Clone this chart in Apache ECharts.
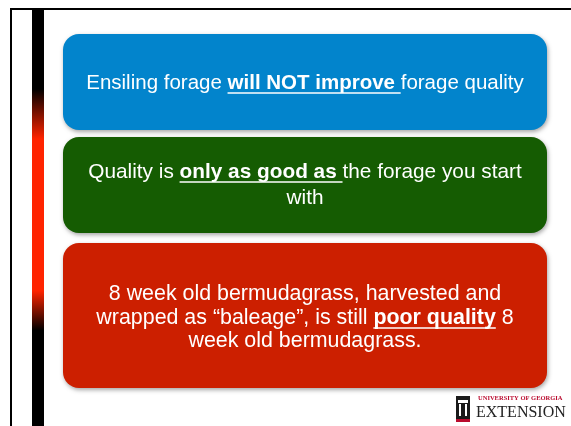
<!DOCTYPE html>
<html>
<head>
<meta charset="utf-8">
<script src="https://cdn.jsdelivr.net/npm/echarts@6/dist/echarts.min.js"></script>
<style>
  html, body { margin: 0; padding: 0; background: #fff; }
  #chart { width: 571px; height: 426px; }
</style>
</head>
<body>
<div id="chart"></div>
<script>
// slide text, each line is a list of [text, emphasised]
const blueLines = [
  [['Ensiling forage ', false], ['will NOT improve ', true], ['forage quality', false]]
]
const greenLines = [
  [['Quality is ', false], ['only as good as ', true], ['the forage you start', false]],
  [['with', false]]
]
const redLines = [
  [['8 week old bermudagrass, harvested and', false]],
  [['wrapped as \u201cbaleage\u201d, is still ', false], ['poor quality', true], [' 8', false]],
  [['week old bermudagrass.', false]]
]
const boxColors = ['#0284cc', '#155c02', '#cc1f00']
const logoSmall = 'UNIVERSITY OF GEORGIA'
const logoBig = 'EXTENSION'

const FONT_FAMILY = '"Liberation Sans", Arial, sans-serif'

const measureCtx = document.createElement('canvas').getContext('2d')
function fontOf(bold, size) {
  return (bold ? 'bold ' : 'normal ') + size + 'px ' + FONT_FAMILY
}
function widthOf(txt, bold, size) {
  measureCtx.font = fontOf(bold, size)
  return measureCtx.measureText(txt).width
}

// lay out centred lines of mixed text, underline the emphasised parts
function textBlock(lines, cx, cy, lineH, size) {
  const els = []
  const top = cy - (lines.length - 1) * lineH / 2
  lines.forEach(function (parts, i) {
    const y = top + i * lineH
    let total = 0
    parts.forEach(function (p) { total += widthOf(p[0], p[1], size) })
    let x = cx - total / 2
    parts.forEach(function (p) {
      const w = widthOf(p[0], p[1], size)
      els.push({
        type: 'text',
        x: x,
        y: y,
        style: {
          text: p[0],
          font: fontOf(p[1], size),
          fill: '#fff',
          textAlign: 'left',
          textVerticalAlign: 'middle'
        }
      })
      if (p[1]) {
        els.push({
          type: 'line',
          shape: { x1: x, y1: y + 10, x2: x + w, y2: y + 10 },
          style: { stroke: '#fff', lineWidth: 1.7 }
        })
      }
      x += w
    })
  })
  return els
}

function box(y, h, color) {
  return {
    type: 'rect',
    shape: { x: 63, y: y, width: 484, height: h, r: 16 },
    style: {
      fill: color,
      shadowBlur: 4,
      shadowOffsetX: 1,
      shadowOffsetY: 2,
      shadowColor: 'rgba(0,0,0,0.35)'
    }
  }
}

const chart = echarts.init(document.getElementById('chart'), null, { renderer: 'canvas' })

const elements = [
  // frame
  { type: 'line', shape: { x1: 10, y1: 9, x2: 571, y2: 9 }, style: { stroke: '#000', lineWidth: 2 } },
  { type: 'line', shape: { x1: 11, y1: 8, x2: 11, y2: 426 }, style: { stroke: '#000', lineWidth: 2 } },
  // vertical accent bar
  {
    type: 'rect',
    shape: { x: 32, y: 10, width: 12, height: 416 },
    style: {
      fill: new echarts.graphic.LinearGradient(0, 0, 0, 1, [
        { offset: 0, color: '#000' },
        { offset: 0.19, color: '#000' },
        { offset: 0.31, color: '#ff2400' },
        { offset: 0.675, color: '#ff2400' },
        { offset: 0.77, color: '#000' },
        { offset: 1, color: '#000' }
      ])
    }
  },
  box(34, 96, boxColors[0]),
  box(137, 96, boxColors[1]),
  box(243, 145, boxColors[2])
]
  .concat(textBlock(blueLines, 305, 83, 24, 20.5))
  .concat(textBlock(greenLines, 305, 185, 26, 20.8))
  .concat(textBlock(redLines, 305, 318, 23.5, 21.4))
  .concat([
    // UGA arch icon
    { type: 'rect', shape: { x: 456, y: 396, width: 14, height: 23 }, style: { fill: '#1a1a1a' } },
    { type: 'rect', shape: { x: 458, y: 400, width: 10, height: 3 }, style: { fill: '#fff' } },
    { type: 'rect', shape: { x: 459, y: 404, width: 2, height: 12 }, style: { fill: '#fff' } },
    { type: 'rect', shape: { x: 465, y: 404, width: 2, height: 12 }, style: { fill: '#fff' } },
    { type: 'rect', shape: { x: 456, y: 419, width: 14, height: 3 }, style: { fill: '#ba0c2f' } },
    {
      type: 'text', x: 478, y: 398,
      style: { text: logoSmall, font: 'bold 6.5px "Liberation Serif", serif', fill: '#ba0c2f', textAlign: 'left', textVerticalAlign: 'middle' }
    },
    {
      type: 'text', x: 476, y: 413,
      style: { text: logoBig, font: 'normal 16px "Liberation Serif", serif', fill: '#222', textAlign: 'left', textVerticalAlign: 'middle' }
    }
  ])

chart.setOption({
  backgroundColor: '#fff',
  animation: false,
  graphic: { elements: elements }
})
</script>
</body>
</html>
